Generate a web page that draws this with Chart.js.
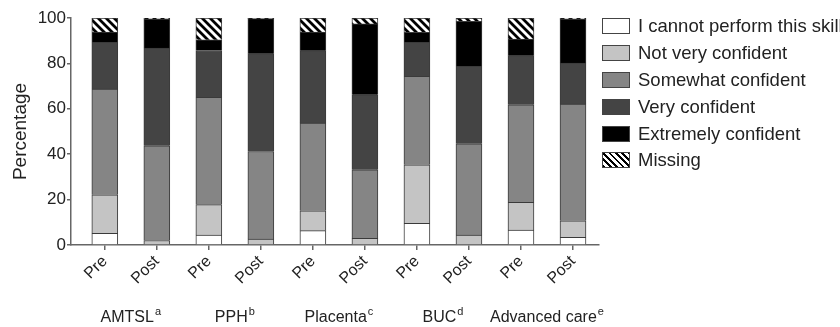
<!DOCTYPE html>
<html>
<head>
<meta charset="utf-8">
<script src="https://cdn.jsdelivr.net/npm/chart.js@4.4.1/dist/chart.umd.min.js"></script>
<style>
    html, body { margin: 0; padding: 0; background: #fff; overflow: hidden; }
    #marco { position: relative; width: 840px; height: 327px; }
    #leyenda {
        position: absolute; left: 602px; top: 13px;
        font: 18.5px "Liberation Sans", Arial, sans-serif; color: #222; white-space: nowrap;
    }
    .fila { display: flex; align-items: center; height: 26.8px; }
    .caja { width: 26px; height: 14px; border: 1px solid #444; margin-right: 8px; }
</style>
</head>
<body>
<div id="marco">
    <canvas id="grafico" width="840" height="327"></canvas>
    <div id="leyenda"></div>
</div>
<script>
// -----------------------------
// DATOS
// -----------------------------
const etiquetasX = ["Pre", "Post", "Pre", "Post", "Pre", "Post", "Pre", "Post", "Pre", "Post"];
const grupos = ["AMTSL", "PPH", "Placenta", "BUC", "Advanced care"];
const superindices = ["a", "b", "c", "d", "e"];

const noPuede     = [5.1, 0,    4.4,  0,    6.3,  0,    9.6,  0,    6.6,  3.4];
const pocoSeguro  = [17.0, 2.0, 13.4, 2.6,  8.8,  2.9,  25.7, 4.4,  12.2, 7.3];
const algoSeguro  = [46.6, 41.7, 47.3, 38.6, 38.6, 30.2, 39.0, 40.2, 43.0, 51.4];
const muySeguro   = [20.6, 43.1, 20.6, 43.1, 31.9, 33.1, 15.0, 34.1, 21.6, 18.0];
const extremo     = [4.5,  12.7, 4.7,  15.4, 8.2,  31.2, 4.4,  19.8, 7.3,  19.4];
const faltan      = [6.2,  0.5,  9.6,  0.3,  6.2,  2.6,  6.3,  1.5,  9.3,  0.5];

const nombresSeries = [
    "I cannot perform this skill",
    "Not very confident",
    "Somewhat confident",
    "Very confident",
    "Extremely confident",
    "Missing"
];

const fuente = '"Liberation Sans", Arial, sans-serif';
const ctx = document.getElementById("grafico");

// -----------------------------
// RAYADO PARA "MISSING"
// -----------------------------
function crearRayado() {
    const c = document.createElement("canvas");
    c.width = 8;
    c.height = 8;
    const g = c.getContext("2d");
    g.fillStyle = "#fff";
    g.fillRect(0, 0, 8, 8);
    g.strokeStyle = "#000";
    g.lineWidth = 2.8;
    g.beginPath();
    g.moveTo(-2, -2); g.lineTo(10, 10);
    g.moveTo(-2, 6); g.lineTo(2, 10);
    g.moveTo(6, -2); g.lineTo(10, 2);
    g.stroke();
    return ctx.getContext("2d").createPattern(c, "repeat");
}

const colores = ["#ffffff", "#c4c4c4", "#858585", "#444444", "#000000", crearRayado()];
const series = [noPuede, pocoSeguro, algoSeguro, muySeguro, extremo, faltan];

// -----------------------------
// LEYENDA
// -----------------------------
const fondosLeyenda = [
    "#ffffff", "#c4c4c4", "#858585", "#444444", "#000000",
    "repeating-linear-gradient(45deg, #000 0 2px, #fff 2px 4.5px)"
];
let html = "";
nombresSeries.forEach((n, i) => {
    html += `<div class="fila"><span class="caja" style="background:${fondosLeyenda[i]}"></span>${n}</div>`;
});
document.getElementById("leyenda").innerHTML = html;

// -----------------------------
// ETIQUETAS DE GRUPO
// -----------------------------
const etiquetasGrupo = {
    id: "etiquetasGrupo",
    afterDraw(chart) {
        const c = chart.ctx;
        const x = chart.scales.x;
        c.save();
        c.fillStyle = "#222";
        c.textBaseline = "alphabetic";
        c.textAlign = "left";
        grupos.forEach((g, i) => {
            const centro = x.getPixelForValue(2 * i + 0.5);
            c.font = "16px " + fuente;
            const ancho = c.measureText(g).width;
            c.font = "11px " + fuente;
            const anchoSup = c.measureText(superindices[i]).width;
            const inicio = centro - (ancho + anchoSup + 1) / 2;
            c.font = "16px " + fuente;
            c.fillText(g, inicio, 322);
            c.font = "11px " + fuente;
            c.fillText(superindices[i], inicio + ancho + 1, 315);
        });
        c.restore();
    }
};

// -----------------------------
// GRÁFICO
// -----------------------------
const datasets = series.map((s, i) => ({
    label: nombresSeries[i],
    data: s.map((v, j) => ({ x: j, y: v })),
    backgroundColor: colores[i],
    borderColor: "#3a3a3a",
    borderWidth: 1,
    barThickness: 26
}));

new Chart(ctx, {
    type: "bar",
    data: { datasets },
    options: {
        responsive: false,
        animation: false,
        layout: { padding: { left: 0, right: 241, top: 18, bottom: 0 } },
        plugins: {
            legend: { display: false },
            tooltip: { enabled: false }
        },
        scales: {
            x: {
                type: "linear",
                stacked: true,
                offset: false,
                min: -0.65,
                max: 9.5,
                afterBuildTicks: (s) => { s.ticks = etiquetasX.map((_, i) => ({ value: i })); },
                afterFit: (s) => { s.height = 82; },
                grid: { offset: false, drawOnChartArea: false, drawTicks: true, tickLength: 5, color: "#666", lineWidth: 1.5 },
                border: { color: "#666", width: 1.5 },
                ticks: {
                    callback: (v) => etiquetasX[v],
                    minRotation: 45,
                    maxRotation: 45,
                    autoSkip: false,
                    padding: 2,
                    color: "#222",
                    font: { size: 16, family: fuente }
                }
            },
            y: {
                stacked: true,
                min: 0,
                max: 100,
                afterFit: (s) => { s.width = 71; },
                grid: { drawOnChartArea: false, drawTicks: true, tickLength: 4, color: "#666", lineWidth: 1.5 },
                border: { color: "#666", width: 1.5 },
                ticks: {
                    stepSize: 20,
                    padding: 1,
                    color: "#222",
                    font: { size: 17, family: fuente }
                },
                title: {
                    display: true,
                    text: "Percentage",
                    color: "#222",
                    font: { size: 19, family: fuente },
                    padding: { top: 9, bottom: 0 }
                }
            }
        }
    },
    plugins: [etiquetasGrupo]
});
</script>
</body>
</html>
